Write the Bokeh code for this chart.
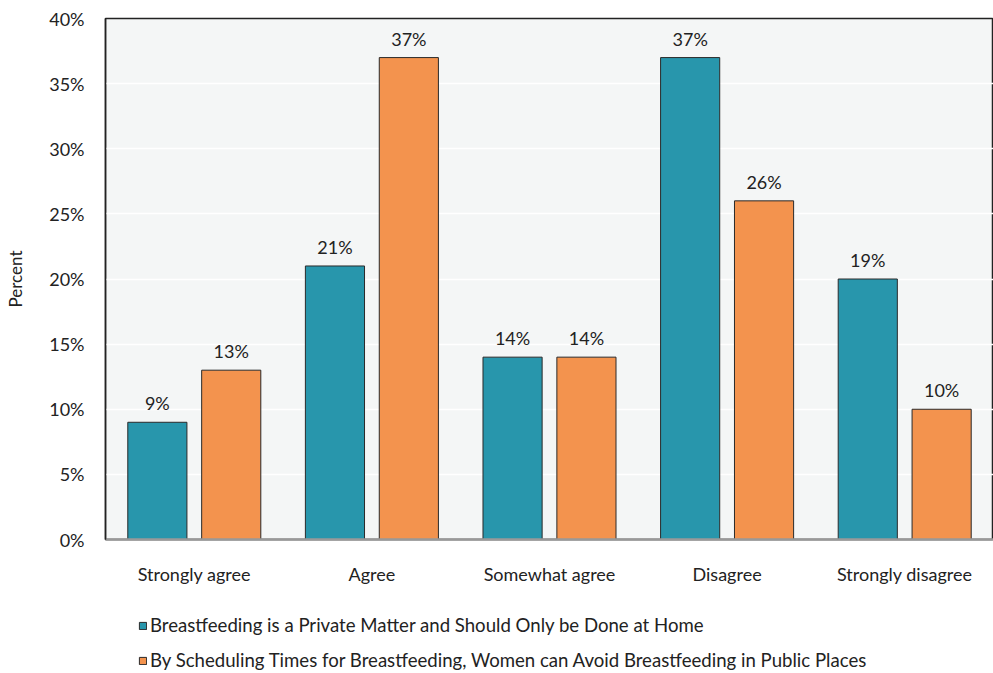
from bokeh.plotting import figure
from bokeh.layouts import column
from bokeh.models import ColumnDataSource, FactorRange, Legend, LegendItem, FixedTicker, Range1d
from bokeh.transform import dodge
from bokeh.core.properties import value
from bokeh.embed import file_html
from bokeh.resources import INLINE

categories = ["Strongly agree", "Agree", "Somewhat agree", "Disagree", "Strongly disagree"]
private_matter = [9, 21, 14, 37, 20]
private_labels = ["9%", "21%", "14%", "37%", "19%"]
scheduling = [13, 37, 14, 26, 10]
scheduling_labels = ["13%", "37%", "14%", "26%", "10%"]
series_names = [
    "Breastfeeding is a Private Matter and Should Only be Done at Home",
    "By Scheduling Times for Breastfeeding, Women can Avoid Breastfeeding in Public Places",
]
y_ticks = [0, 5, 10, 15, 20, 25, 30, 35, 40]

FONT = "Lato"
TEAL = "#2896ac"
ORANGE = "#f3934e"
EDGE = "#2a2a2a"
TXT = "#222222"

src = ColumnDataSource(dict(cat=categories, a=private_matter, al=private_labels,
                            b=scheduling, bl=scheduling_labels))
x_range = FactorRange(*categories)

p = figure(x_range=x_range, y_range=Range1d(0, 40),
           width=993, height=590, output_backend="svg", toolbar_location=None,
           min_border_left=105, min_border_right=0, min_border_top=18, min_border_bottom=51)

p.vbar(x=dodge("cat", -0.208, range=x_range), top="a", width=0.333, source=src,
       fill_color=TEAL, line_color=EDGE, line_width=1)
p.vbar(x=dodge("cat", 0.208, range=x_range), top="b", width=0.333, source=src,
       fill_color=ORANGE, line_color=EDGE, line_width=1)

for col, lab, off in (("a", "al", -0.208), ("b", "bl", 0.208)):
    p.text(x=dodge("cat", off, range=x_range), y=col, text=lab, source=src,
           text_align="center", text_baseline="bottom", y_offset=-8,
           text_font=value(FONT), text_font_size="18px", text_color=TXT)

p.background_fill_color = "#f4f6f6"
p.border_fill_color = "white"
p.outline_line_color = TXT
p.outline_line_width = 1.5

p.xgrid.grid_line_color = None
p.ygrid.grid_line_color = "white"
p.ygrid.grid_line_width = 1.5

p.yaxis.ticker = FixedTicker(ticks=y_ticks)
p.yaxis.major_label_overrides = {t: f"{t}%" for t in y_ticks}
p.yaxis.axis_label = "Percent"
p.yaxis.axis_label_text_font = FONT
p.yaxis.axis_label_text_font_size = "17px"
p.yaxis.axis_label_text_font_style = "normal"
p.yaxis.axis_label_text_color = TXT
p.yaxis.axis_label_standoff = 20
p.yaxis.major_label_text_font = FONT
p.yaxis.major_label_text_font_size = "18px"
p.yaxis.major_label_text_color = TXT
p.yaxis.major_label_standoff = 15
p.yaxis.major_tick_line_color = None
p.yaxis.minor_tick_line_color = None
p.yaxis.axis_line_color = TXT
p.yaxis.axis_line_width = 1.5

p.xaxis.major_label_text_font = FONT
p.xaxis.major_label_text_font_size = "18px"
p.xaxis.major_label_text_color = TXT
p.xaxis.major_label_standoff = 17
p.xaxis.major_tick_line_color = None
p.xaxis.axis_line_color = "#999999"
p.xaxis.axis_line_width = 2.5

# legend strip below the chart (its bars fall far outside its y range, only the legend shows)
lg = figure(x_range=x_range, y_range=Range1d(1000, 2000),
            width=993, height=83, output_backend="svg", toolbar_location=None,
            x_axis_location=None, y_axis_location=None,
            min_border_left=0, min_border_right=0, min_border_top=0, min_border_bottom=0)
lg.outline_line_color = None
lg.background_fill_color = None
lg.xgrid.grid_line_color = None
lg.ygrid.grid_line_color = None
e1 = lg.vbar(x=dodge("cat", -0.208, range=x_range), top="a", width=0.333, source=src,
             fill_color=TEAL, line_color=EDGE, line_width=1)
e2 = lg.vbar(x=dodge("cat", 0.208, range=x_range), top="b", width=0.333, source=src,
             fill_color=ORANGE, line_color=EDGE, line_width=1)
legend = Legend(items=[LegendItem(label=series_names[0], renderers=[e1]),
                       LegendItem(label=series_names[1], renderers=[e2])],
                orientation="vertical", location=(33, 2),
                glyph_width=9, glyph_height=9, label_height=20, spacing=13,
                label_text_font=FONT, label_text_font_size="18.6px", label_text_color=TXT,
                label_standoff=3, padding=0, margin=0,
                border_line_color=None, background_fill_alpha=0)
lg.add_layout(legend, "center")

layout = column(p, lg, spacing=0)
open("out.html", "w").write(file_html(layout, INLINE))
